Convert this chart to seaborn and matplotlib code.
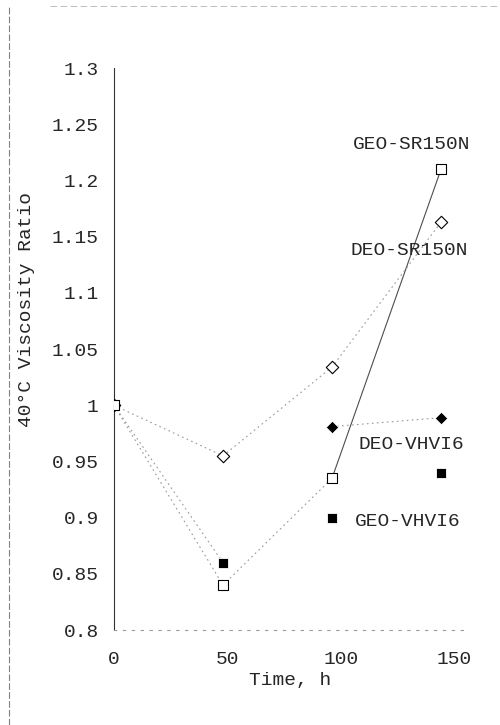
import matplotlib
matplotlib.use("Agg")
import matplotlib.pyplot as plt
import seaborn as sns
from matplotlib.lines import Line2D

time = [0, 48, 96, 144]
geo_sr150n = [1.0, 0.84, 0.935, 1.21]
deo_sr150n = [1.0, 0.955, 1.034, 1.163]
deo_vhvi6 = [1.0, 0.955, 0.981, 0.989]
geo_vhvi6 = [1.0, 0.86, 0.90, 0.94]

y_ticks = [0.8, 0.85, 0.9, 0.95, 1.0, 1.05, 1.1, 1.15, 1.2, 1.25, 1.3]
y_tick_labels = ["0.8", "0.85", "0.9", "0.95", "1", "1.05", "1.1", "1.15", "1.2", "1.25", "1.3"]
x_ticks = [0, 50, 100, 150]

sns.set_style("white")
plt.rcParams["font.family"] = ["Liberation Mono", "DejaVu Sans Mono"]

fig = plt.figure(figsize=(5, 7.25), dpi=100)
ax = fig.add_axes([0.228, 0.131, 0.704, 0.775])

dot = dict(color="0.6", lw=0.8, linestyle=(0, (1.5, 3)))
# connecting lines (only where the original shows them)
sns.lineplot(x=time[:3], y=geo_sr150n[:3], ax=ax, **dot)
sns.lineplot(x=time[2:], y=geo_sr150n[2:], ax=ax, color="0.3", lw=0.8)
sns.lineplot(x=time, y=deo_sr150n, ax=ax, **dot)
sns.lineplot(x=time[2:], y=deo_vhvi6[2:], ax=ax, **dot)
sns.lineplot(x=time[:2], y=geo_vhvi6[:2], ax=ax, **dot)

# markers
sns.scatterplot(x=time, y=deo_vhvi6, ax=ax, marker="D", s=40, color="black", zorder=4)
sns.scatterplot(x=time, y=geo_vhvi6, ax=ax, marker="s", s=55, color="black", zorder=4)
sns.scatterplot(x=time, y=deo_sr150n, ax=ax, marker="D", s=40, facecolor="white",
                edgecolor="black", linewidth=0.8, zorder=5)
sns.scatterplot(x=time, y=geo_sr150n, ax=ax, marker="s", s=55, facecolor="white",
                edgecolor="black", linewidth=0.8, zorder=6)

fs = 14
ax.text(131, 1.232, "GEO-SR150N", fontsize=fs, ha="center", va="center")
ax.text(130, 1.138, "DEO-SR150N", fontsize=fs, ha="center", va="center")
ax.text(131, 0.965, "DEO-VHVI6", fontsize=fs, ha="center", va="center")
ax.text(106, 0.897, "GEO-VHVI6", fontsize=fs, ha="left", va="center")

ax.set_xlim(0, 155)
ax.set_ylim(0.8, 1.3)
ax.set_yticks(y_ticks)
ax.set_yticklabels(y_tick_labels)
ax.set_xticks(x_ticks)
ax.tick_params(axis="both", length=0, labelsize=fs)
ax.tick_params(axis="y", pad=11)
ax.tick_params(axis="x", pad=15)

ax.set_xlabel("Time, h", fontsize=fs, labelpad=3)
ax.set_ylabel("40°C Viscosity Ratio", fontsize=fs)
ax.yaxis.set_label_coords(-0.225, 0.57)

sns.despine(ax=ax, top=True, right=True)
ax.spines["left"].set_color("0.2")
ax.spines["left"].set_linewidth(0.8)
ax.spines["bottom"].set_color("0.6")
ax.spines["bottom"].set_linewidth(0.8)
ax.spines["bottom"].set_linestyle((0, (2, 6)))

# scanned page border
fig.add_artist(Line2D([0.018, 0.018], [0.0, 0.99], color="0.5", lw=0.8, linestyle=(0, (6, 2))))
fig.add_artist(Line2D([0.1, 1.0], [0.992, 0.992], color="0.7", lw=0.6, linestyle=(0, (8, 4))))

fig.savefig("out.png", dpi=100)
